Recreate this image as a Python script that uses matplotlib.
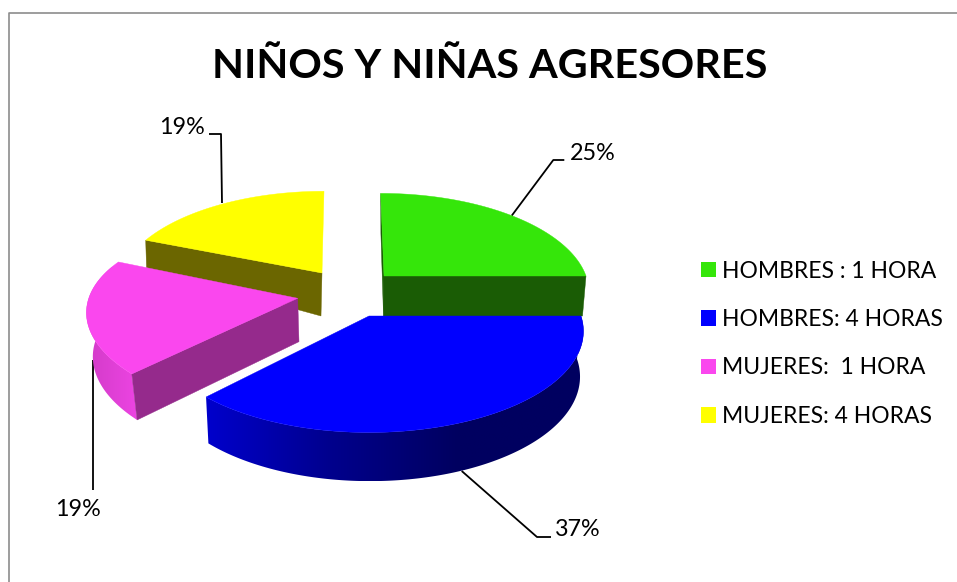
import numpy as np
import matplotlib
matplotlib.use("Agg")
import matplotlib.pyplot as plt
from matplotlib.colors import LinearSegmentedColormap
from matplotlib.patches import Polygon, Patch

# ---- data ----
TITLE = "NIÑOS Y NIÑAS AGRESORES"
categories = ["HOMBRES : 1 HORA", "HOMBRES: 4 HORAS", "MUJERES:  1 HORA", "MUJERES: 4 HORAS"]
values = [25, 37, 19, 19]

# ---- style ----
top_colors = ["#35E60A", "#0000FF", "#FA47EE", "#FFFF00"]
cut_colors = ["#1A5C05", "#0000D8", "#952A8C", "#6B6600"]
blue_rim = ["#0000CC", "#00008C", "#000060", "#000060"]
magenta_rim = ["#D23BC8", "#EC44E2"]

# projection of each slice: apex, radii, shears, perspective (top / bottom plane)
top_plane = [
    dict(c=(384, 276), rx=202, ry=95, s=0, xs=-3.8, k=0.15),
    dict(c=(369, 316), rx=212, ry=99, s=0, xs=0, k=0.15),
    dict(c=(297.7, 298.3), rx=207, ry=93.3, s=-5, xs=0, k=0.2),
    dict(c=(322, 273), rx=201, ry=94, s=0, xs=2.3, k=0.15),
]
bot_plane = [
    dict(c=(383.5, 316), rx=199, ry=95, s=0, xs=-3, k=0.15),
    dict(c=(370, 359), rx=207, ry=101.5, s=0, xs=0, k=0.169),
    dict(c=(299, 341.7), rx=202, ry=96.4, s=-5, xs=0, k=0.2),
    dict(c=(321, 316), rx=198, ry=137, s=0, xs=0, k=0.15),
]


def project(plane, theta):
    """Ground-plane angle (radians) to picture position, with perspective."""
    X, Y = np.cos(theta), np.sin(theta)
    w = 1 + plane["k"] * Y
    x = plane["c"][0] + (plane["rx"] * X + plane["xs"] * Y) / w
    y = plane["c"][1] - (plane["ry"] * Y + plane["s"] * X) / w
    return np.column_stack([x, y])


plt.rcParams["font.family"] = ["Lato", "DejaVu Sans"]
fig = plt.figure(figsize=(9.57, 5.82), dpi=100, facecolor="white")
ax = fig.add_axes([0, 0, 1, 1])
ax.axis("off")

# frame: open to the right and bottom like the cropped original
ax.plot([9, 9, 957], [582, 12.5, 12.5], color="#8C8C8C", lw=1.2, zorder=1)

# slice angles, clockwise from 12 o'clock
fractions = np.array(values) / sum(values)
ends = np.pi / 2 - 2 * np.pi * np.cumsum(fractions)
starts = ends + 2 * np.pi * fractions


def wall(i, theta, z):
    t, b = top_plane[i], bot_plane[i]
    p = project(t, np.array([theta]))[0]
    q = project(b, np.array([theta]))[0]
    ax.add_patch(Polygon([t["c"], p, q, b["c"]], closed=True, fc=cut_colors[i],
                         ec=cut_colors[i], lw=0.3, zorder=z))


def rim(i, a0, a1, stops, z):
    """Outer rim between two angles, shaded from left to right."""
    th = np.linspace(a0, a1, 200)
    pts = np.vstack([project(top_plane[i], th), project(bot_plane[i], th)[::-1]])
    x0, x1 = pts[:, 0].min(), pts[:, 0].max()
    y0, y1 = pts[:, 1].min(), pts[:, 1].max()
    cmap = LinearSegmentedColormap.from_list("rim", stops)
    im = ax.imshow(np.linspace(0, 1, 256)[None, :], extent=(x0, x1, y1, y0), cmap=cmap,
                   aspect="auto", interpolation="bilinear", zorder=z)
    clip = Polygon(pts, closed=True, transform=ax.transData)
    im.set_clip_path(clip)


def top_face(i, z):
    th = np.linspace(starts[i], ends[i], 160)
    pts = np.vstack([[top_plane[i]["c"]], project(top_plane[i], th)])
    ax.add_patch(Polygon(pts, closed=True, fc=top_colors[i], ec=top_colors[i],
                         lw=0.3, zorder=z))


# leader lines
leaders = [
    [(511.7, 215.7), (553.3, 160), (564.3, 160)],
    [(461.7, 471), (537, 537), (551, 537)],
    [(92.8, 360), (92.8, 490)],
    [(222, 203), (221, 134), (209, 134)],
]
for seg in leaders:
    xs, ys = zip(*seg)
    ax.plot(xs, ys, color="black", lw=1.3, zorder=2, solid_capstyle="butt")

# yellow
wall(3, starts[3], 3)
top_face(3, 4)
# magenta
rim(2, starts[2], starts[2] - 0.95 * (starts[2] - ends[2]), magenta_rim, 5)
wall(2, starts[2], 6)
top_face(2, 7)
# green
wall(0, ends[0], 8)
wall(0, starts[0], 8)
top_face(0, 9)
# blue
rim(1, starts[1], ends[1], blue_rim, 10)
top_face(1, 11)

ax.set_xlim(0, 957)
ax.set_ylim(582, 0)

# value labels
label_pos = [(592.5, 153.5), (578, 530), (78, 509.5), (182, 127.5)]
for v, (x, y) in zip(values, label_pos):
    ax.text(x, y, f"{v}%", ha="center", va="center", fontsize=16.8, color="black", zorder=12)

ax.text(490, 78, TITLE, ha="center", va="baseline", fontsize=29.8, fontweight="bold",
        color="black", zorder=12)

handles = [Patch(fc=c, ec="none") for c in top_colors]
FS = 16.5
px = FS * 100 / 72
ax.legend(handles, categories, loc="upper left", bbox_to_anchor=(701 / 957, 1 - 260.5 / 582),
          frameon=False, fontsize=FS, handlelength=15 / px, handleheight=15 / px,
          handletextpad=6.5 / px, labelspacing=1.2, borderpad=0, borderaxespad=0)

fig.savefig("out.png", dpi=100)
